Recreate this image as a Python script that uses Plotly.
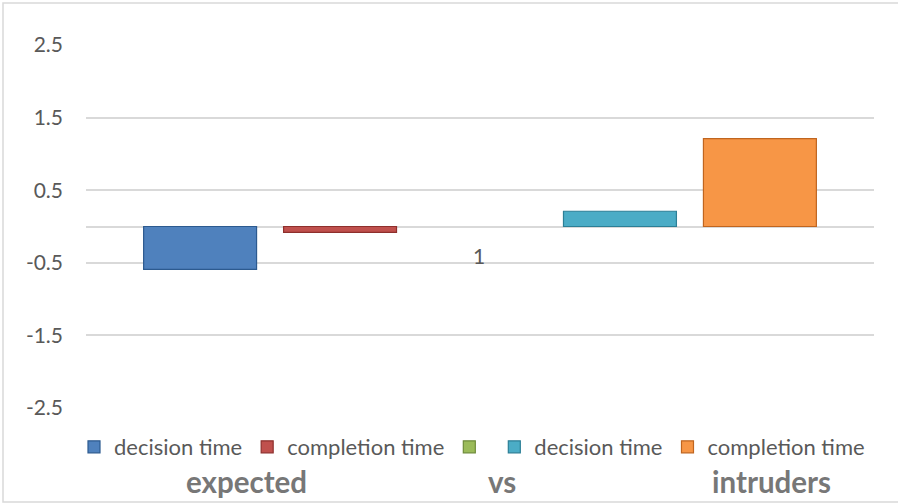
import plotly.graph_objects as go

# ---- data ----
categories = ["1"]
series_names = ["decision time", "completion time", "", "decision time", "completion time"]
series_values = [-0.59, -0.08, None, 0.21, 1.21]
series_colors = ["#4F81BD", "#C0504D", "#9BBB59", "#4BACC6", "#F79646"]
edge_colors = ["#2C5A8F", "#8E2F2C", "#6F8C3A", "#2C7F96", "#C0651F"]
tick_values = [2.5, 1.5, 0.5, -0.5, -1.5, -2.5]
tick_labels = ["2.5", "1.5", "0.5", "-0.5", "-1.5", "-2.5"]
group_labels = ["expected", "vs", "intruders"]

W, H = 898, 503
L, R, T, B = 86, 24, 45, 95
pw, ph = W - L - R, H - T - B

def px_x(p):
    return (p - L) / pw

def px_y(p):
    return (H - B - p) / ph

FONT = "Lato"
GRAY = "#595959"

fig = go.Figure()
for name, val, col, edge in zip(series_names, series_values, series_colors, edge_colors):
    fig.add_trace(go.Bar(
        x=categories, y=[val], name=name,
        marker=dict(color=col, line=dict(color=edge, width=1.2)),
        hoverinfo="skip",
    ))

annotations = []
# category label next to the axis (x given as category index)
annotations.append(dict(x=categories.index(categories[0]), y=0, xref="x", yref="y", text=categories[0],
                        showarrow=False, yshift=-29, xshift=-1,
                        font=dict(family=FONT, size=21, color=GRAY)))
for txt, cx in zip(group_labels, [246, 502, 771]):
    annotations.append(dict(x=px_x(cx), y=px_y(481), xref="paper", yref="paper", text="<b>%s</b>" % txt,
                            showarrow=False, xanchor="center", yanchor="middle",
                            font=dict(family=FONT, size=29.5, color="#777777")))

fig.update_layout(
    width=W, height=H,
    margin=dict(l=L, r=R, t=T, b=B),
    paper_bgcolor="white", plot_bgcolor="white",
    barmode="group", bargap=0.112, bargroupgap=0.193,
    font=dict(family=FONT, size=21, color=GRAY),
    showlegend=True,
    legend=dict(orientation="h", x=px_x(74), xanchor="left", y=px_y(447), yanchor="middle",
                font=dict(family=FONT, size=22, color=GRAY), bgcolor="rgba(0,0,0,0)",
                traceorder="normal"),
    xaxis=dict(type="category", range=[-0.5, 0.5], autorange=False, showticklabels=False,
               showgrid=False, zeroline=False, showline=False, ticks=""),
    yaxis=dict(range=[-2.5, 2.5], tickvals=tick_values, ticktext=tick_labels,
               showgrid=True, gridcolor="#D9D9D9", gridwidth=1.5,
               zeroline=True, zerolinecolor="#D9D9D9", zerolinewidth=1.5,
               showline=False, ticks="", ticklabelstandoff=22,
               tickfont=dict(family=FONT, size=21, color=GRAY)),
    annotations=annotations,
    shapes=[dict(type="rect", xref="paper", yref="paper",
                 x0=px_x(3), x1=px_x(905), y0=px_y(502), y1=px_y(3),
                 line=dict(color="#D9D9D9", width=1.5), fillcolor="rgba(0,0,0,0)", layer="below")],
)

fig.write_html("out.html")
